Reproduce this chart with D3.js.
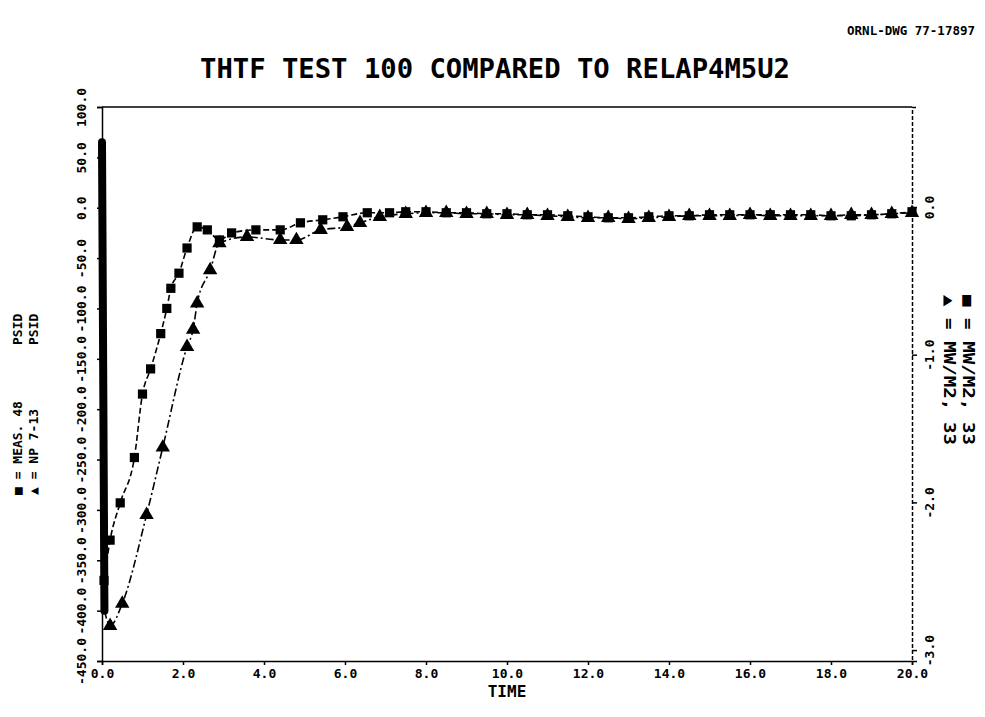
<!DOCTYPE html>
<html>
<head>
<meta charset="utf-8">
<script src="https://cdn.jsdelivr.net/npm/d3@7"></script>
<style>
  body { margin: 0; background: #fff; }
  text { font-family: "DejaVu Sans Mono", monospace; font-weight: bold; fill: #000; }
</style>
</head>
<body>
<svg id="chart" width="985" height="717"></svg>
<script>
// ---- axis ticks ----
const timeTicks = [0, 2, 4, 6, 8, 10, 12, 14, 16, 18, 20];
const psidTicks = [100, 50, 0, -50, -100, -150, -200, -250, -300, -350, -400, -450];
const rightTicks = [0, -1, -2, -3];

// ---- measured differential pressure (PSID) ----
const measTime = [0.05, 0.2, 0.45, 0.8, 1.0, 1.2, 1.45, 1.6, 1.7, 1.9, 2.1, 2.35, 2.6, 2.9,
  3.2, 3.8, 4.4, 4.9, 5.45, 5.95, 6.55, 7.1, 7.5, 8.0, 8.5, 9.0, 9.5, 10.0, 10.5, 11.0,
  11.5, 12.0, 12.5, 13.0, 13.5, 14.0, 14.5, 15.0, 15.5, 16.0, 16.5, 17.0, 17.5, 18.0,
  18.5, 19.0, 19.5, 20.0];
const measPsid = [-370, -330, -293, -248, -185, -160, -125, -100, -80, -65, -40, -19, -22, -32,
  -25, -22, -22, -15, -12, -9, -5, -5, -4, -4, -5, -5, -6, -6, -7, -7,
  -8, -9, -10, -10, -9, -8, -8, -7, -7, -7, -7, -7, -7, -8,
  -8, -7, -6, -4];

// ---- RELAP4 junction 7-13 (PSID) ----
const spikeTime = [0.0, 0.06];
const spikePsid = [65, -400];
const calcTime = [0.2, 0.5, 1.1, 1.5, 2.1, 2.25, 2.35, 2.67, 2.9, 3.58, 4.4, 4.8, 5.4, 6.05,
  6.37, 6.86, 7.5, 8.0, 8.5, 9.0, 9.5, 10.0, 10.5, 11.0, 11.5, 12.0, 12.5, 13.0, 13.5,
  14.0, 14.5, 15.0, 15.5, 16.0, 16.5, 17.0, 17.5, 18.0, 18.5, 19.0, 19.5, 20.0];
const calcPsid = [-415, -393, -305, -238, -138, -121, -95, -62, -35, -29, -32, -32, -22, -19,
  -15, -9, -6, -5, -5, -6, -6, -7, -7, -8, -9, -10, -10, -11, -10,
  -9, -8, -8, -8, -7, -8, -8, -8, -8, -7, -7, -6, -5];

const svg = d3.select("#chart");

const x = d3.scaleLinear().domain([0, 20]).range([102, 912]);
const yL = d3.scaleLinear().domain([-450, 100]).range([661, 107]);
const yR = d3.scaleLinear().domain([-3.074, 0.677]).range([661, 107]);
const fmt = d => d.toFixed(1);

// header text
svg.append("text").attr("x", 975).attr("y", 35).attr("text-anchor", "end")
  .style("font-size", "12.5px").text("ORNL-DWG 77-17897");
svg.append("text").attr("x", 200).attr("y", 78)
  .attr("textLength", 590).attr("lengthAdjust", "spacingAndGlyphs")
  .style("font-size", "26px").text("THTF TEST 100 COMPARED TO RELAP4M5U2");

// top frame line
svg.append("line")
  .attr("x1", x(0)).attr("x2", x(20)).attr("y1", yL(100)).attr("y2", yL(100))
  .attr("stroke", "#000").attr("stroke-width", 1.5);

// bottom time axis
const gx = svg.append("g").attr("transform", `translate(0,${yL(-450)})`)
  .call(d3.axisBottom(x).tickValues(timeTicks).tickSize(4).tickFormat(fmt));
gx.selectAll(".tick text").attr("y", 8).style("font-size", "13px");
svg.append("text").attr("x", x(10)).attr("y", 697).attr("text-anchor", "middle")
  .style("font-size", "16px").text("TIME");

// left pressure axis
const gl = svg.append("g").attr("transform", `translate(${x(0)},0)`)
  .call(d3.axisLeft(yL).tickValues(psidTicks).tickSize(5).tickFormat(fmt));
gl.selectAll(".tick text")
  .attr("x", 0).attr("y", 0).attr("dy", "0.35em")
  .attr("text-anchor", "middle")
  .attr("transform", "translate(-21,0) rotate(-90)")
  .style("font-size", "13px");

// right axis
const gr = svg.append("g").attr("transform", `translate(${x(20)},0)`)
  .call(d3.axisRight(yR).tickValues(rightTicks).tickSize(5).tickFormat(fmt));
gr.select(".domain").attr("stroke-dasharray", "4,2");
gr.selectAll(".tick text")
  .attr("x", 0).attr("y", 0).attr("dy", "0.35em")
  .attr("text-anchor", "middle")
  .attr("transform", "translate(17,0) rotate(-90)")
  .style("font-size", "13px");

svg.selectAll(".domain, .tick line").attr("stroke", "#000").attr("stroke-width", 1.5);
svg.selectAll(".tick text").style("font-family", "DejaVu Sans Mono").style("font-weight", "bold");

// legends (rotated)
const leftLegend = [
  { x: 17, label: "\u25A0 = MEAS. 48", unit: "PSID" },
  { x: 33, label: "\u25B2 = NP 7-13", unit: "PSID" }
];
leftLegend.forEach(l => {
  svg.append("text").attr("transform", `translate(${l.x},495) rotate(-90)`)
    .attr("dy", "0.35em").style("font-size", "13px").text(l.label);
  svg.append("text").attr("transform", `translate(${l.x},345) rotate(-90)`)
    .attr("dy", "0.35em").style("font-size", "13px").text(l.unit);
});
const rightLegend = [
  { x: 968, label: "\u25A0 = MW/M2, 33" },
  { x: 949, label: "\u25B2 = MW/M2, 33" }
];
rightLegend.forEach(l => {
  svg.append("text").attr("transform", `translate(${l.x},295) rotate(90)`)
    .attr("dy", "0.35em").attr("textLength", 150).attr("lengthAdjust", "spacingAndGlyphs")
    .style("font-size", "15px").text(l.label);
});

// data
const meas = measTime.map((t, i) => [t, measPsid[i]]);
const calc = calcTime.map((t, i) => [t, calcPsid[i]]);
const spike = spikeTime.map((t, i) => [t, spikePsid[i]]);
const line = d3.line().x(d => x(d[0])).y(d => yL(d[1])).curve(d3.curveMonotoneX);

// early blowdown spike of the calculated trace
svg.append("path").datum(spike).attr("d", d3.line().x(d => x(d[0])).y(d => yL(d[1])))
  .attr("fill", "none").attr("stroke", "#000").attr("stroke-width", 8)
  .attr("stroke-linecap", "round");

svg.append("path").datum(spike.slice(1).concat(calc)).attr("d", line)
  .attr("fill", "none").attr("stroke", "#000").attr("stroke-width", 1.6)
  .attr("stroke-dasharray", "8,3,2,3");
svg.append("path").datum(meas).attr("d", line)
  .attr("fill", "none").attr("stroke", "#000").attr("stroke-width", 1.6)
  .attr("stroke-dasharray", "6,3");

svg.append("g").selectAll("path").data(meas).join("path")
  .attr("transform", d => `translate(${x(d[0])},${yL(d[1])})`)
  .attr("d", d3.symbol(d3.symbolSquare, 85)).attr("fill", "#000");
svg.append("g").selectAll("path").data(calc).join("path")
  .attr("transform", d => `translate(${x(d[0])},${yL(d[1])})`)
  .attr("d", d3.symbol(d3.symbolTriangle, 90)).attr("fill", "#000");
</script>
</body>
</html>
